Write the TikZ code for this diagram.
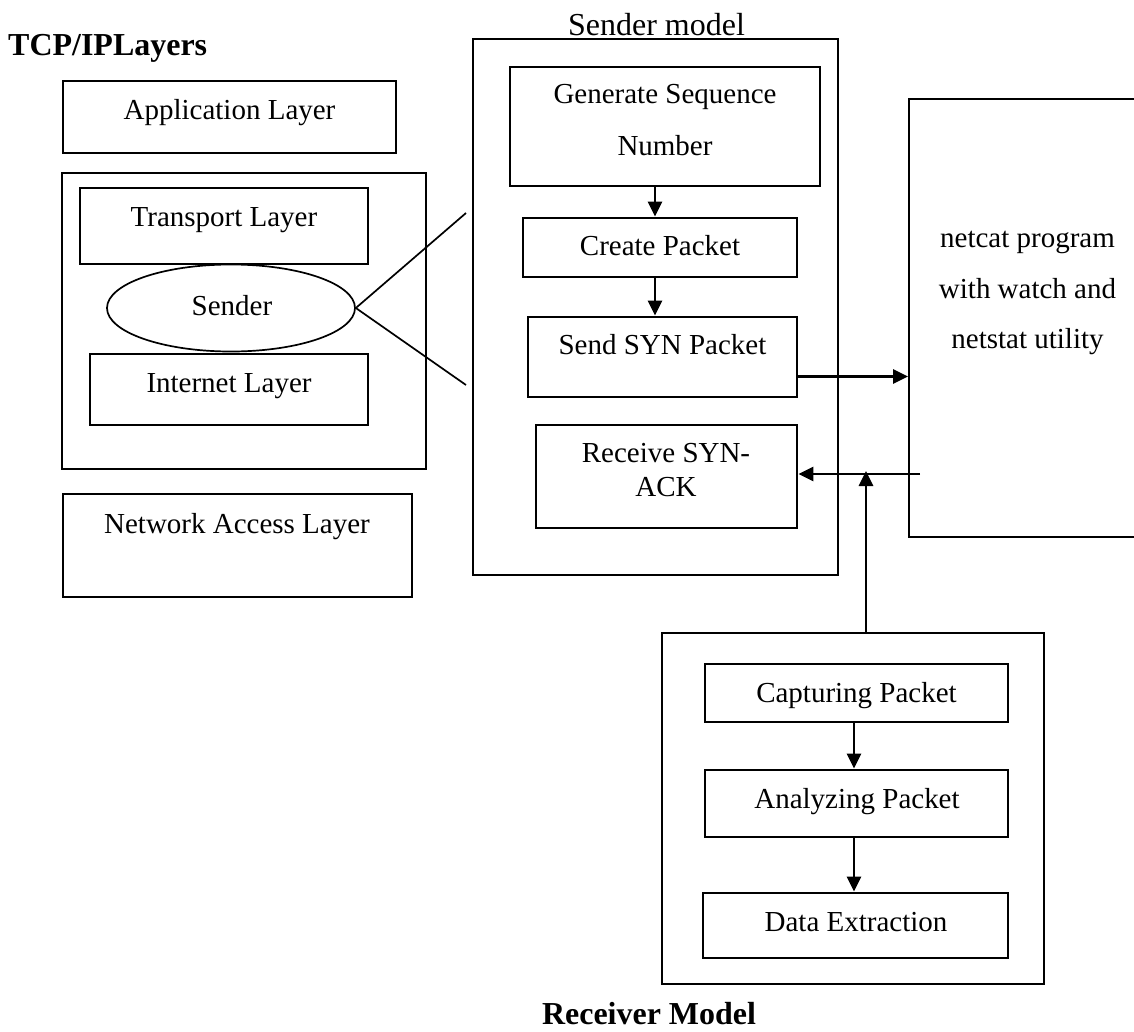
\documentclass[tikz,border=0pt]{standalone}
\usepackage{fontspec}
\setmainfont{Liberation Serif}
\usetikzlibrary{arrows.meta,fit,shapes.geometric}

\tikzset{
  thinbox/.style={draw, line width=1.9bp, inner sep=0pt, rectangle},
  thickbox/.style={draw, line width=2.8bp, inner sep=0pt, rectangle},
  lbl/.style={anchor=base, inner sep=0pt, font=\fontsize{29.1}{34}\selectfont},
  bigtitle/.style={anchor=base, inner sep=0pt, font=\bfseries\fontsize{32.1}{36}\selectfont},
  arr/.style={line width=2.8bp, -{Triangle[length=15bp,width=14bp]}},
  link/.style={line width=1.7bp}
}

\begin{document}
\begin{tikzpicture}[x=1bp, y=-1bp]
\useasboundingbox (0,0) rectangle (1134,1032);
\clip (0,0) rectangle (1134,1032);

% ---- TCP/IP layer stack ----
\node[bigtitle, anchor=base west] (tcptitle) at (8,55) {TCP/IPLayers};

\node[thinbox, fit={(63,81) (396,153)}] (app) {};
\node[lbl] (applbl) at (229.5,119) {Application Layer};

\node[thinbox, fit={(62,173) (426,469)}] (stack) {};
\node[thinbox, fit={(80,188) (368,264)}] (transport) {};
\node[lbl] (translbl) at (224,226) {Transport Layer};
\node[draw, ellipse, line width=1.7bp, inner sep=0pt,
      minimum width=248bp, minimum height=87bp] (sender) at (231,308) {};
\node[lbl] (senderlbl) at (232,315) {Sender};
\node[thinbox, fit={(90,354) (368,425)}] (internet) {};
\node[lbl] (internetlbl) at (229,392) {Internet Layer};

\node[thinbox, fit={(63,494) (412,597)}] (netacc) {};
\node[lbl] (netacclbl) at (237,533) {Network Access Layer};

% zoom lines from the sender to the sender model
\coordinate (zoomtop) at (466,213);
\coordinate (zoombot) at (466,385);
\draw[link] (sender.east) -- (zoomtop);
\draw[link] (sender.east) -- (zoombot);

% ---- Sender model ----
\node[lbl, font=\fontsize{32.1}{36}\selectfont] (smlbl) at (656.5,35) {Sender model};
\node[thickbox, fit={(473,39) (838,575)}] (smodel) {};

\node[thickbox, fit={(510,67) (820,186)}] (gen) {};
\node[lbl] (genlbla) at (665,103) {Generate Sequence};
\node[lbl] (genlblb) at (665,155) {Number};

\node[thickbox, fit={(523,218) (797,277)}] (create) {};
\node[lbl] (createlbl) at (660,255) {Create Packet};

\node[thickbox, fit={(528,317) (797,397)}] (send) {};
\node[lbl] (sendlbl) at (662.5,354) {Send SYN Packet};

\node[thickbox, fit={(536,425) (797,528)}] (receive) {};
\node[lbl] (recvlbla) at (666,462) {Receive SYN-};
\node[lbl] (recvlblb) at (666,496) {ACK};

\draw[arr] ([xshift=-10bp]gen.south) -- ([xshift=-10bp]gen.south |- create.north);
\draw[arr] ([xshift=-5bp]create.south) -- ([xshift=-5bp]create.south |- send.north);

% ---- netcat box ----
\node[thinbox, fit={(909,99) (1160,537)}] (netcat) {};
\node[lbl] (ncl1) at (1027.5,247) {netcat program};
\node[lbl] (ncl2) at (1027.5,298) {with watch and};
\node[lbl] (ncl3) at (1027.5,348) {netstat utility};

\draw[arr] ([yshift=-19.5bp]send.east) -- ([yshift=-19.5bp]send.east -| netcat.west);
\coordinate (ret) at (920,474);
\draw[arr] (ret) -- (ret -| receive.east);

% ---- Receiver model ----
\node[thickbox, fit={(662,633) (1044,984)}] (rmodel) {};
\node[thickbox, fit={(705,664) (1008,722)}] (capt) {};
\node[lbl] (captlbl) at (856.5,702) {Capturing Packet};
\node[thickbox, fit={(705,770) (1008,837)}] (anal) {};
\node[lbl] (anallbl) at (857,808) {Analyzing Packet};
\node[thickbox, fit={(703,893) (1008,958)}] (data) {};
\node[lbl] (datalbl) at (856,931) {Data Extraction};

\draw[arr] ([xshift=-2.5bp]capt.south) -- ([xshift=-2.5bp]capt.south |- anal.north);
\draw[arr] ([xshift=-2.5bp]anal.south) -- ([xshift=-2.5bp]anal.south |- data.north);

\draw[arr, shorten >=-3bp] ([xshift=13bp]rmodel.north) -- ([xshift=13bp]rmodel.north |- ret);

\node[bigtitle] (rmlbl) at (649,1024) {Receiver Model};
\end{tikzpicture}
\end{document}
